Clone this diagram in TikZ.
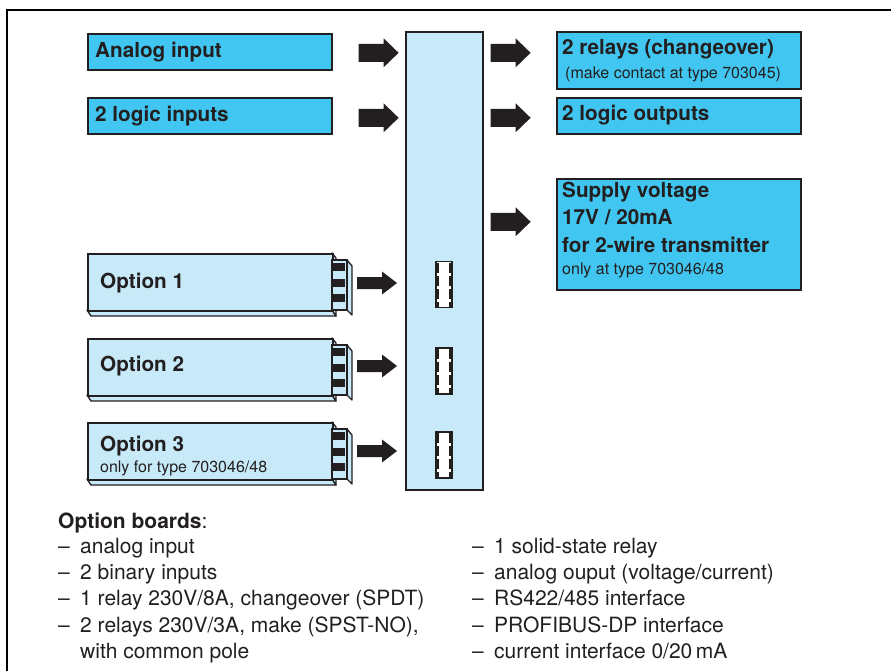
\documentclass[tikz,border=0pt]{standalone}
\usepackage{fontspec}
\setmainfont{TeX Gyre Heros}
\usetikzlibrary{calc}
\definecolor{cyanbox}{RGB}{64,198,240}
\definecolor{lightbox}{RGB}{200,234,248}
\definecolor{ink}{RGB}{35,31,32}
\tikzset{
  cbox/.style={draw=ink, line width=1.6pt, fill=cyanbox, rectangle, inner sep=0pt, anchor=north west},
  lbl/.style={anchor=base west, inner sep=0pt, text=ink, font=\fontsize{20.7}{24}\selectfont\bfseries},
  sml/.style={anchor=base west, inner sep=0pt, text=ink, font=\fontsize{16}{19}\selectfont},
  lst/.style={anchor=base west, inner sep=0pt, text=ink, font=\fontsize{21}{26}\selectfont},
  socket/.style={draw=ink, fill=white, line width=1.4pt, minimum width=16pt, minimum height=46pt, inner sep=0pt},
  bigarr/.pic={\fill[ink] (0,-9)--(25,-9)--(25,-14.5)--(40,0)--(25,14.5)--(25,9)--(0,9)--cycle;},
  smallarr/.pic={\fill[ink] (0,-6)--(25,-6)--(25,-11.5)--(40,0)--(25,11.5)--(25,6)--(0,6)--cycle;},
  board/.pic={
    \path[fill=lightbox, draw=ink, line width=1.3pt, line join=round] (0,57)--(4,63)--(249,63)--(245,57)--cycle;
    \path[fill=lightbox, draw=ink, line width=1.3pt, line join=round] (245,0)--(249,5)--(249,63)--(245,57)--cycle;
    \node[draw=ink, line width=1.6pt, fill=lightbox, minimum width=245pt, minimum height=57pt, anchor=north west, inner sep=0pt] (-face) at (0,0) {};
    \path[fill=lightbox, draw=ink, line width=1.3pt, line join=round] (260,7)--(265,13)--(265,62)--(260,57)--cycle;
    \path[fill=lightbox, draw=ink, line width=1.3pt] (245,7) rectangle (260,57);
    \fill[ink] (245,10) rectangle (258,18);
    \fill[ink] (245,26) rectangle (258,34);
    \fill[ink] (245,41) rectangle (258,49);
  },
}
\begin{document}
\begin{tikzpicture}[x=1pt,y=-1pt]
\useasboundingbox (0,0) rectangle (891,671);
% frame
\draw[black, line width=2.4pt] (7,671) -- (7,10) -- (891,10);

% main box
\node[draw=ink, line width=1.6pt, fill=lightbox, minimum width=77pt, minimum height=458pt, anchor=north west, inner sep=0pt] (main) at (405,31) {};

% input boxes
\node[cbox, minimum width=244pt, minimum height=36pt] (ain) at (87,33) {};
\node[lbl] (ainT) at (95,58) {Analog input};
\node[cbox, minimum width=244pt, minimum height=36pt] (lin) at (87,97) {};
\node[lbl] (linT) at (95,122) {2 logic inputs};

% output boxes
\node[cbox, minimum width=244pt, minimum height=57pt] (rel) at (556,31) {};
\node[lbl] (relT) at (562,55) {2 relays (changeover)};
\node[sml] (relS) at (565,79) {(make contact at type 703045)};
\node[cbox, minimum width=244pt, minimum height=36pt] (lout) at (556,97) {};
\node[lbl] (loutT) at (562,121) {2 logic outputs};
\node[cbox, minimum width=244pt, minimum height=111pt] (sup) at (556,178) {};
\node[lbl] (supA) at (562,198) {Supply voltage};
\node[lbl] (supB) at (562,225) {17V / 20mA};
\node[lbl] (supC) at (562,252) {for 2-wire transmitter};
\node[sml] (supD) at (562,274) {only at type 703046/48};

% big arrows
\pic at ($(ain.east)+(26,1)$) {bigarr};
\pic at ($(lin.east)+(26,2)$) {bigarr};
\pic at ($(main.east |- rel.west)+(7,-7.5)$) {bigarr};
\pic at ($(main.east |- lout.west)+(7,2)$) {bigarr};
\pic at ($(main.east)+(7,-39)$) {bigarr};

% option boards
\pic (b1) at (87,253) {board};
\pic (b2) at (87,338) {board};
\pic (b3) at (87,422) {board};
\node[lbl] (o1) at ($(b1-face.north west)+(13,35)$) {Option 1};
\node[lbl] (o2) at ($(b2-face.north west)+(13,33)$) {Option 2};
\node[lbl] (o3) at ($(b3-face.north west)+(13,29)$) {Option 3};
\node[sml] (o3s) at ($(b3-face.north west)+(13,50)$) {only for type 703046/48};

% sockets
\node[socket] (s1) at (444,284.5) {};
\node[socket] (s2) at (444,371) {};
\node[socket] (s3) at (444,455) {};
\foreach \s in {s1,s2,s3}{
  \draw[ink, line width=2.6pt, dash pattern=on 10pt off 3pt, dash phase=-2pt] ($(\s.north west)+(2.6,0)$) -- ($(\s.south west)+(2.6,0)$);
  \draw[ink, line width=2.6pt, dash pattern=on 10pt off 3pt, dash phase=-2pt] ($(\s.north east)+(-2.6,0)$) -- ($(\s.south east)+(-2.6,0)$);
}

% small arrows
\pic at ($(main.west |- s1.center)+(-48,-1.5)$) {smallarr};
\pic at ($(main.west |- s2.center)+(-48,-5)$) {smallarr};
\pic at ($(main.west |- s3.center)+(-48,-4)$) {smallarr};

% list
\node[lst] (hdr) at (58,528) {\textbf{Option boards}:};
\foreach \y/\t [count=\i] in {553/{analog input}, 579/{2 binary inputs}, 605/{1 relay 230V/8A, changeover (SPDT)}, 632/{2 relays 230V/3A, make (SPST-NO),}}{
  \node[lst] (ld\i) at (58,\y) {–};
  \node[lst] (lt\i) at (80,\y) {\t};
}
\node[lst] (lt5) at (80,658) {with common pole};
\foreach \y/\t [count=\i] in {553/{1 solid-state relay}, 579/{analog ouput (voltage/current)}, 605/{RS422/485 interface}, 632/{PROFIBUS-DP interface}, 658/{current interface 0/20\,mA}}{
  \node[lst] (rd\i) at (472,\y) {–};
  \node[lst] (rt\i) at (494,\y) {\t};
}
\end{tikzpicture}
\end{document}
